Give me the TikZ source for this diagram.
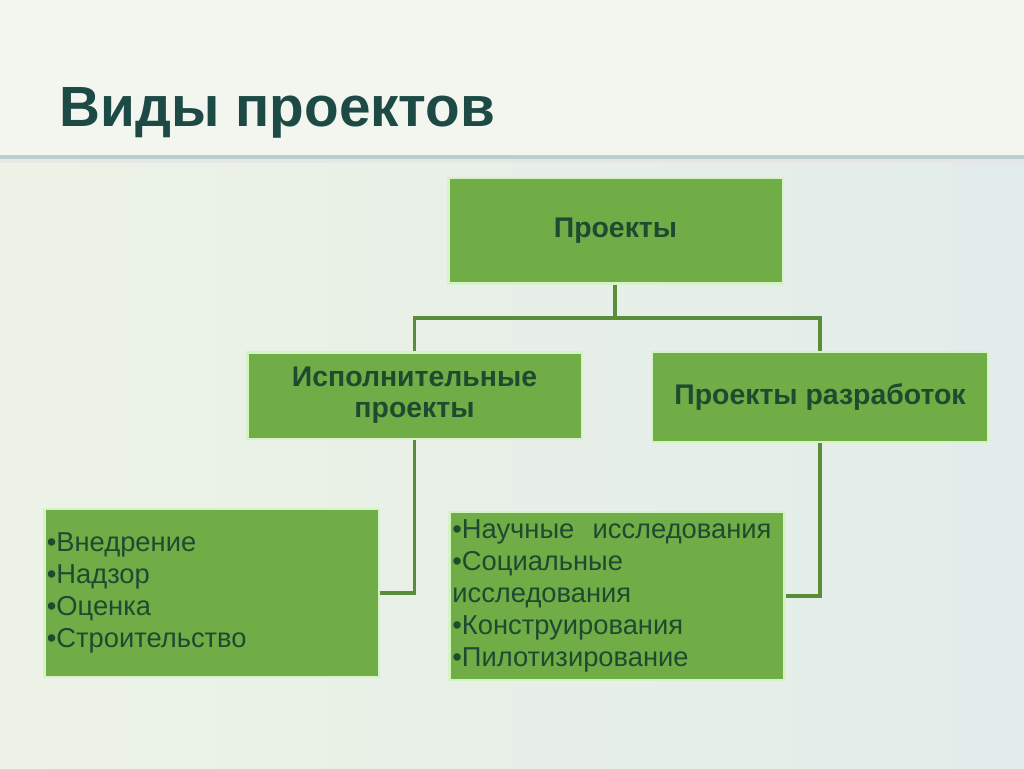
\documentclass[tikz,border=0pt]{standalone}
\usepackage{fontspec}
\setmainfont{Liberation Sans}
\usepackage{tikz}
\definecolor{boxgreen}{HTML}{70AD47}
\definecolor{boxedge}{HTML}{D6F3C6}
\definecolor{txtgreen}{HTML}{1E4A30}
\definecolor{linegreen}{HTML}{5B8C3A}
\definecolor{titleteal}{HTML}{1D4A45}
\definecolor{bgleft}{HTML}{EDF3E6}
\definecolor{bgright}{HTML}{E2ECEA}
\definecolor{titlebg}{HTML}{F3F6EF}
\definecolor{sepline}{HTML}{B9D0CC}
\tikzstyle{box} = [draw=boxedge, fill=boxgreen, line width=2pt, text=txtgreen,
inner sep=2pt]
\tikzstyle{head} = [box, font=\fontsize{21.3}{23.5}\selectfont\bfseries, align=center]
\tikzstyle{list} = [box, font=\fontsize{20.5}{24}\selectfont, align=left,
text width=247pt]
\tikzstyle{conn} = [draw=linegreen, line width=2.6pt]

\begin{document}
\begin{tikzpicture}[x=0.75pt, y=-0.75pt]
                    % background
                    \useasboundingbox (0,0) rectangle (1024,768);
                    \shade[left color=bgleft, right color=bgright] (0,0) rectangle (1024,768);
                    \fill[titlebg] (0,0) rectangle (1024,156);
                    \fill[gray!20, opacity=0.7] (0,158) rectangle (1024,163);
                    \fill[sepline] (0,155) rectangle (1024,158.5);
                    \node[anchor=base west, text=titleteal, font=\fontsize{42.5}{46}\selectfont\bfseries]
                        (title) at (55,126) {Виды проектов};
                    \coordinate (split) at (615,318);
                    \coordinate (lturn) at (414.5,593);
                    \coordinate (rturn) at (820,596);
                    \draw[conn] (615,283)--(split);
                    \draw[conn] (split)-|(414.5,352);
                    \draw[conn] (split)-|(820,352);
                    \draw[conn] (414.5,439)--(lturn)--(380,593);
                    \draw[conn] (820,442)--(rturn)--(786,596);
                    \node[head, minimum width=251pt, minimum height=79pt] (proj) at (615.5,230.5) {Проекты};
                    \node[head, minimum width=251pt, minimum height=65pt] (exec) at (414.5,395.5) {Исполнительные\\проекты};
                    \node[head, minimum width=252pt, minimum height=67.5pt] (dev) at (820,397) {Проекты разработок};
                    \node[list, minimum height=126pt] (execlist) at (211.5,593)
                        {•Внедрение\\•Надзор\\•Оценка\\•Строительство};
                    \node[list, minimum height=126pt] (devlist) at (617,596)
                        {•Научные\ \ исследования\\•Социальные\\исследования\\•Конструирования\\•Пилотизирование};
                \end{tikzpicture}
\end{document}
